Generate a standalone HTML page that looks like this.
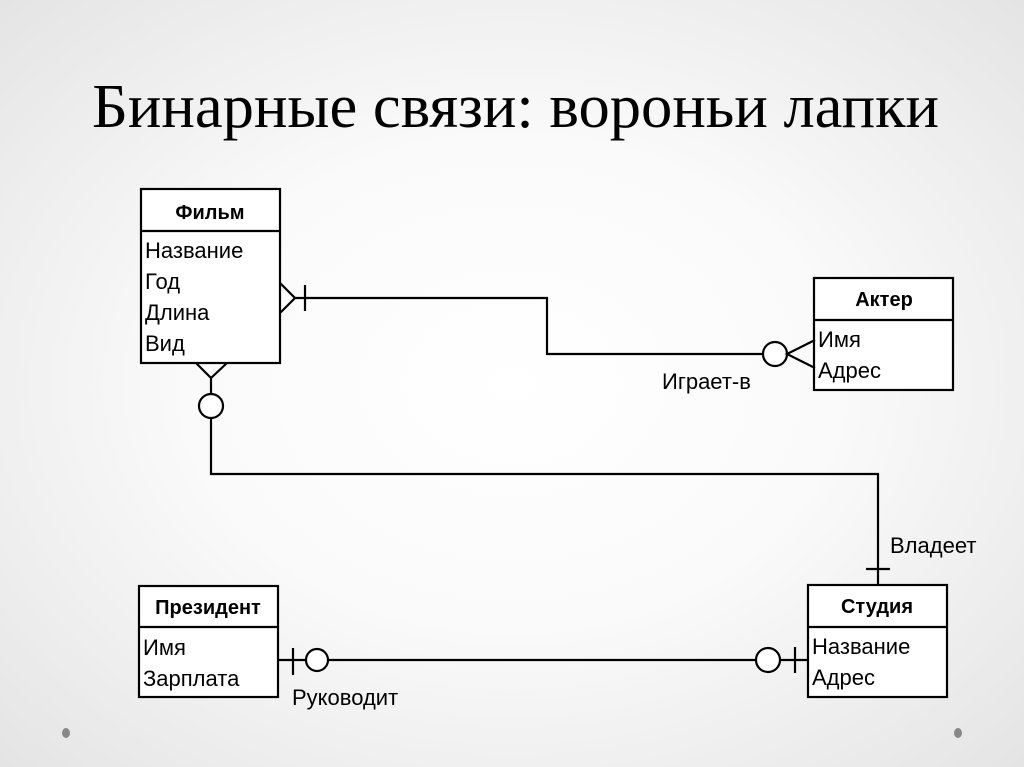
<!DOCTYPE html>
<html><head><meta charset="utf-8"><style>
html,body{margin:0;padding:0;}
body{width:1024px;height:767px;overflow:hidden;background:radial-gradient(ellipse at 50% 50%,#ffffff 0%,#fafafa 45%,#e4e4e4 100%);}
svg{display:block}
</style></head><body>
<svg width="1024" height="767" viewBox="0 0 1024 767" xmlns="http://www.w3.org/2000/svg">
<text x="92" y="127" font-family="Liberation Serif, serif" font-size="62" textLength="847" lengthAdjust="spacingAndGlyphs" fill="#000">Бинарные связи: вороньи лапки</text>
<g fill="#fff" stroke="#000" stroke-width="2.2">
<rect x="141" y="189" width="139" height="174"/>
<line x1="141" y1="231" x2="280" y2="231"/>
<rect x="814" y="278" width="139" height="112"/>
<line x1="814" y1="320" x2="953" y2="320"/>
<rect x="808" y="585" width="139" height="112"/>
<line x1="808" y1="627" x2="947" y2="627"/>
<rect x="139" y="586" width="139" height="111"/>
<line x1="139" y1="627" x2="278" y2="627"/>
</g>
<g fill="none" stroke="#000" stroke-width="2.2">
<polyline points="280,283 295,298 280,313"/>
<line x1="305" y1="285" x2="305" y2="311"/>
<polyline points="295,298 547,298 547,354 763,354"/>
<circle cx="775" cy="354" r="12" fill="#fff"/>
<polyline points="815,340 787,354 815,368"/>
<polyline points="196,363 211,378 227,363"/>
<line x1="211" y1="378" x2="211" y2="394"/>
<circle cx="211" cy="406" r="12" fill="#fff"/>
<polyline points="211,418 211,474 878,474 878,585"/>
<line x1="866" y1="569" x2="890" y2="569"/>
<line x1="278" y1="660" x2="305" y2="660"/>
<line x1="293" y1="648" x2="293" y2="675"/>
<circle cx="317" cy="660" r="11" fill="#fff"/>
<line x1="328" y1="660" x2="756" y2="660"/>
<circle cx="768" cy="660" r="12" fill="#fff"/>
<line x1="780" y1="660" x2="808" y2="660"/>
<line x1="795" y1="647" x2="795" y2="673"/>
</g>
<g font-family="Liberation Sans, sans-serif" fill="#000">
<text x="210" y="219" font-size="20" font-weight="bold" text-anchor="middle">Фильм</text>
<text x="145" y="258" font-size="22">Название</text>
<text x="145" y="289" font-size="22">Год</text>
<text x="145" y="320" font-size="22">Длина</text>
<text x="145" y="351" font-size="22">Вид</text>
<text x="884" y="306" font-size="20" font-weight="bold" text-anchor="middle">Актер</text>
<text x="818" y="347" font-size="22">Имя</text>
<text x="818" y="378" font-size="22">Адрес</text>
<text x="877" y="613" font-size="20" font-weight="bold" text-anchor="middle">Студия</text>
<text x="812" y="654" font-size="22">Название</text>
<text x="812" y="685" font-size="22">Адрес</text>
<text x="208" y="614" font-size="20" font-weight="bold" text-anchor="middle">Президент</text>
<text x="143" y="655" font-size="22">Имя</text>
<text x="143" y="686" font-size="22">Зарплата</text>
<text x="662" y="389" font-size="22">Играет-в</text>
<text x="890" y="553" font-size="22">Владеет</text>
<text x="292" y="705" font-size="22">Руководит</text>
</g>
<ellipse cx="66" cy="733" rx="4" ry="5" fill="#888"/>
<ellipse cx="958" cy="733" rx="4" ry="5" fill="#888"/>
</svg>
</body></html>
